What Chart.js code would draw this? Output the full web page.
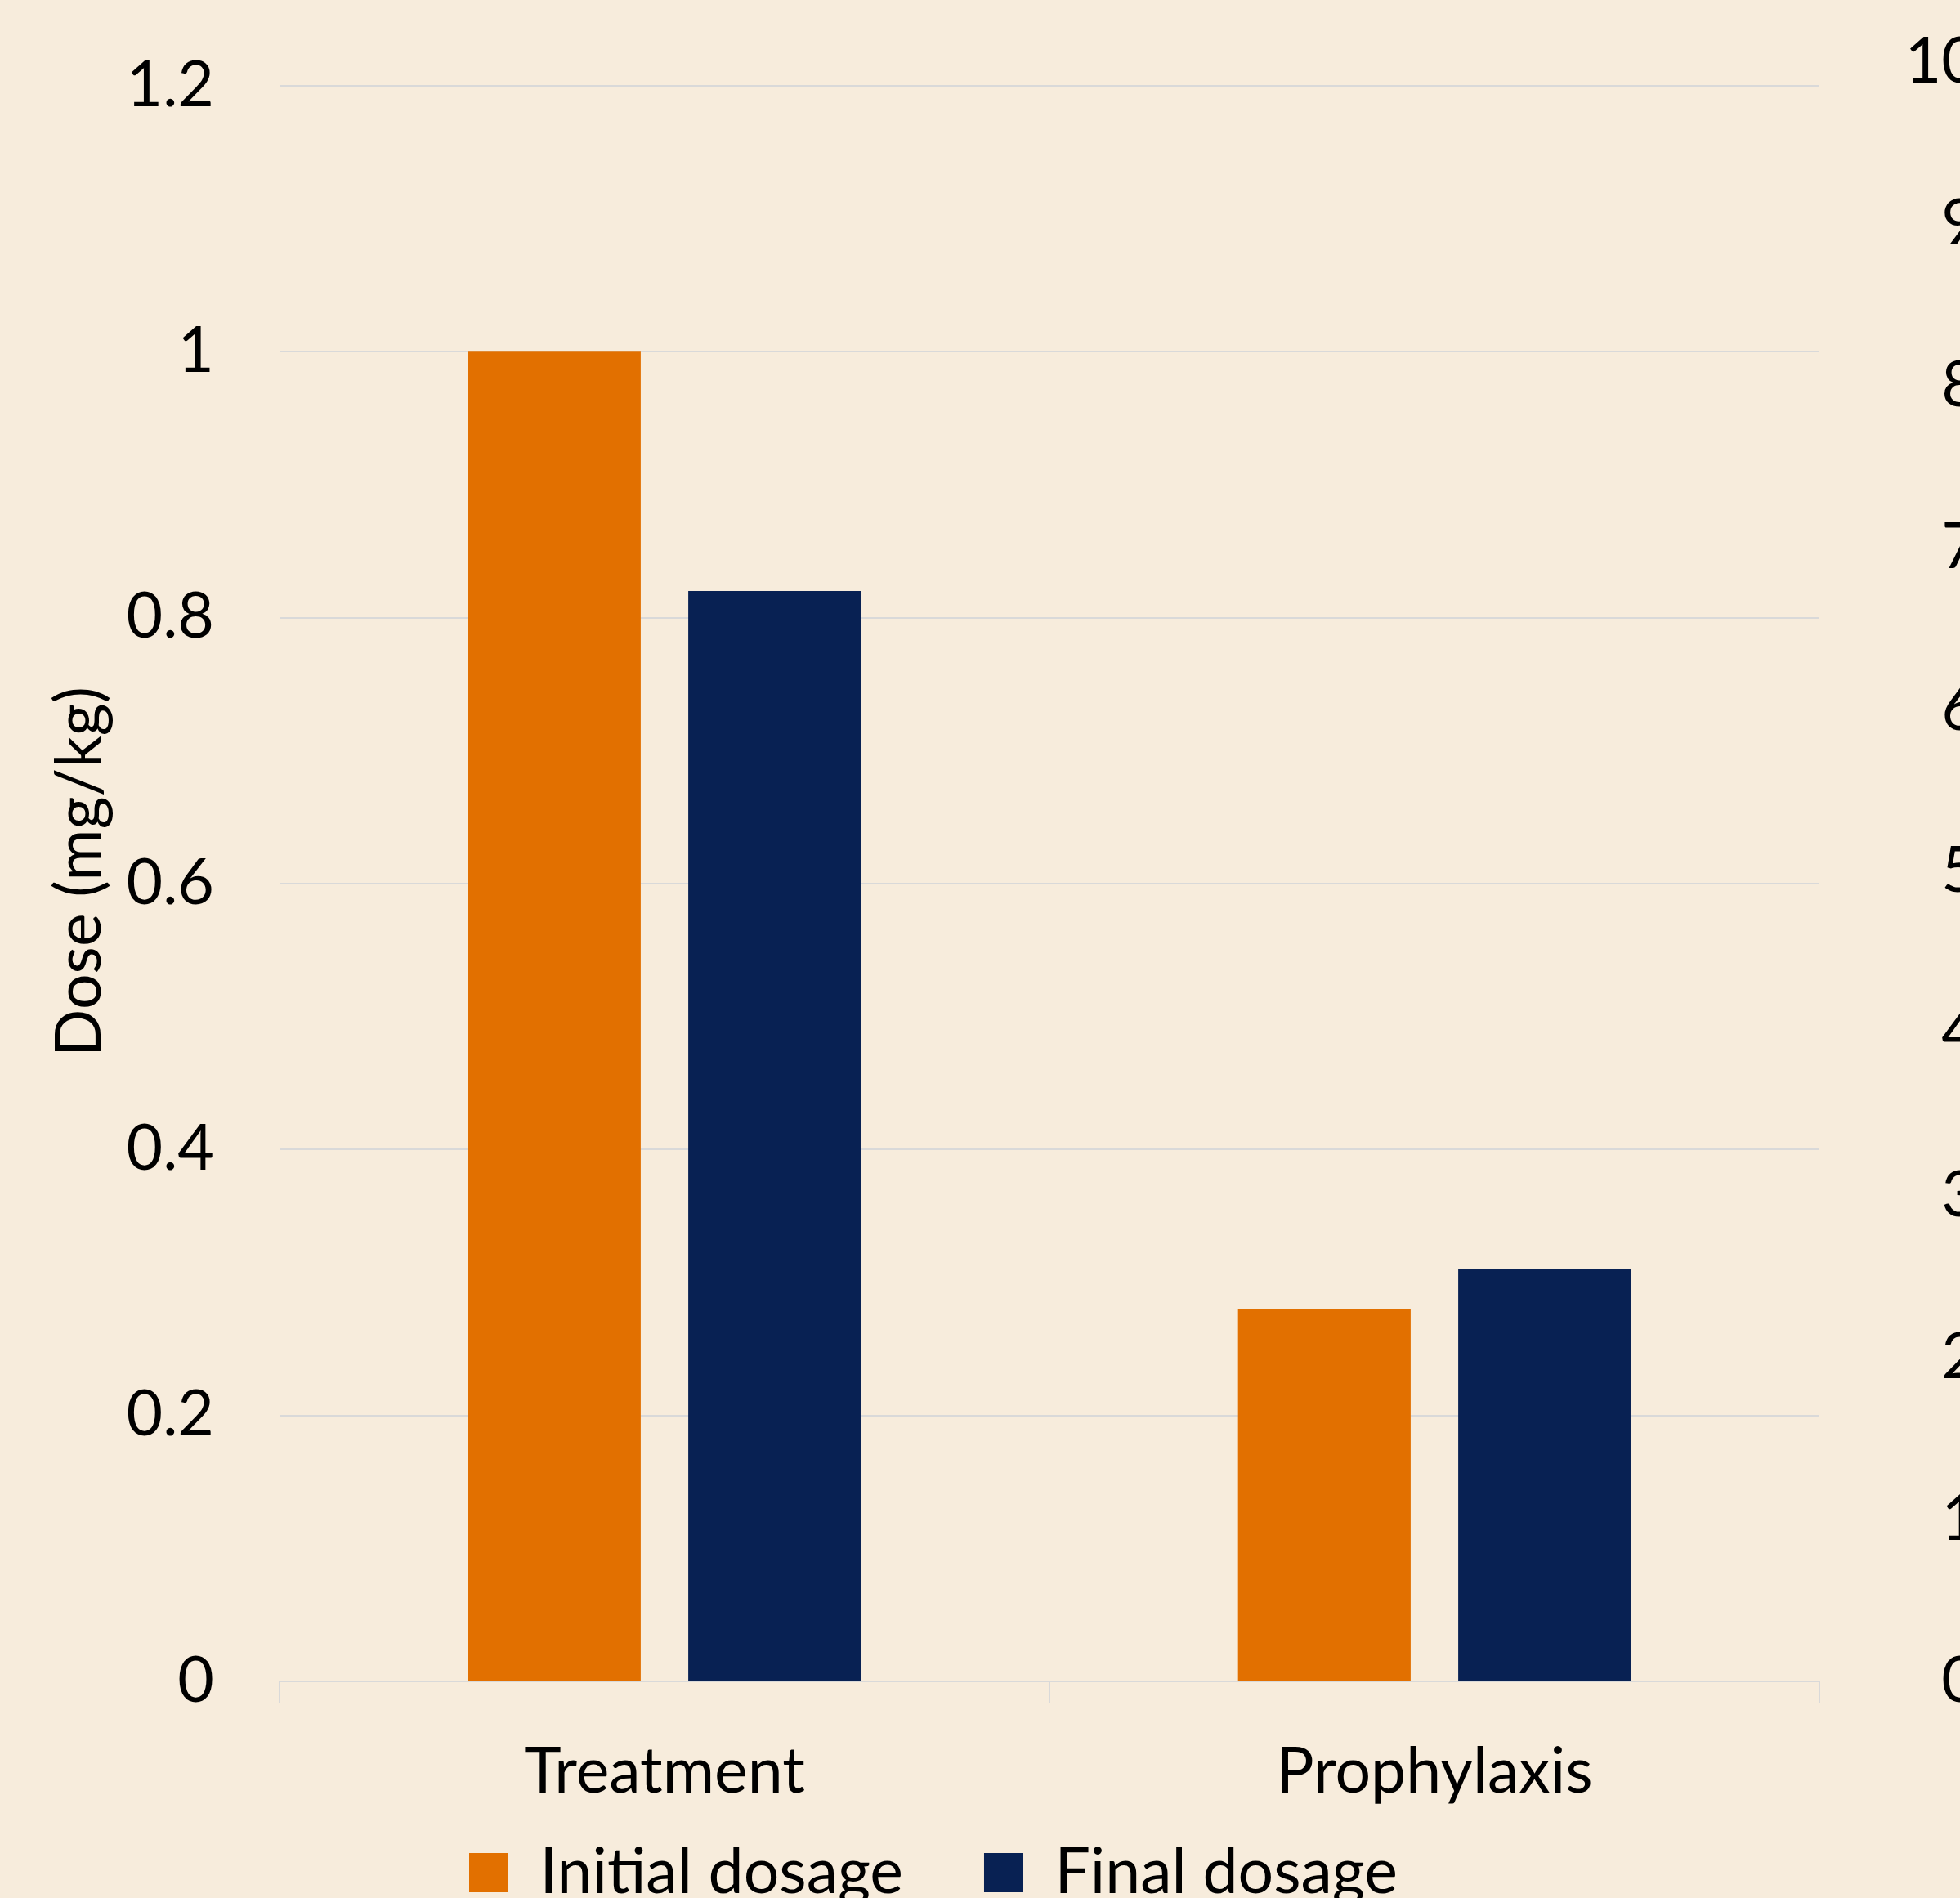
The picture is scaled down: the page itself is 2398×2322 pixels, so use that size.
<!DOCTYPE html>
<html>
<head>
<meta charset="utf-8">
<title>Dose chart</title>
<script src="https://cdn.jsdelivr.net/npm/chart.js@4.4.1/dist/chart.umd.min.js"></script>
<style>
  html, body { margin: 0; padding: 0; background: #f7ecdc; overflow: hidden; }
  #chart-wrap { width: 2420px; height: 2393px; }
</style>
</head>
<body>
<div id="chart-wrap"><canvas id="dose-chart"></canvas></div>
<script>
'use strict';

// DATA
let categories = ['Treatment', 'Prophylaxis'];
let seriesNames = ['Initial dosage', 'Final dosage'];
let initialDosage = [1.0, 0.28];
let finalDosage = [0.82, 0.31];
let doseTicks = [0, 0.2, 0.4, 0.6, 0.8, 1, 1.2];
let rightTicks = [0, 1, 2, 3, 4, 5, 6, 7, 8, 9, 10];

// STYLE
let orange = '#e27000';
let navy = '#082153';
let gridColor = '#d9d9d9';
let textFont = { family: 'Lato, "Open Sans", sans-serif', size: 77 };
let legendPad = 99;

// CANVAS
let ctx = document.getElementById('dose-chart');

// helper: keep only the listed tick values
function useTicks(list) {
  return function (axis) {
    axis.ticks = list.map(v => ({ value: v }));
  };
}

// move the legend so it sits where the original one does
let legendShift = {
  id: 'legendShift',
  afterLayout(chart) {
    let lg = chart.legend;
    let w = lg.right - lg.left;
    lg.left = chart.chartArea.left + 232 - legendPad;
    lg.right = lg.left + w;

    let targetMid = chart.chartArea.bottom + 234;
    let curMid = lg.top + legendPad + textFont.size / 2;
    let dy = targetMid - curMid;
    lg.top += dy;
    lg.bottom += dy;
  }
};

let chartObj = {
  type: 'bar',
  data: {
    labels: categories,
    datasets: [{
      label: seriesNames[0],
      data: initialDosage,
      backgroundColor: orange,
      yAxisID: 'y',
      categoryPercentage: 0.572,
      barPercentage: 0.784
    },
    {
      label: seriesNames[1],
      data: finalDosage,
      backgroundColor: navy,
      yAxisID: 'y',
      categoryPercentage: 0.572,
      barPercentage: 0.784
    }]
  },
  options: {
    responsive: true,
    maintainAspectRatio: false,
    animation: false,
    devicePixelRatio: 1,
    layout: { padding: { top: 76, left: 0, right: 0, bottom: 0 } },
    plugins: {
      legend: {
        position: 'bottom',
        align: 'start',
        labels: {
          boxWidth: 48,
          boxHeight: 48,
          padding: legendPad,
          color: '#000',
          font: textFont
        }
      },
      tooltip: { enabled: false }
    },
    scales: {
      x: {
        offset: true,
        grid: {
          offset: true,
          drawOnChartArea: false,
          drawTicks: true,
          tickLength: 26,
          color: gridColor,
          lineWidth: 2
        },
        border: { color: gridColor, width: 2 },
        ticks: { color: '#000', font: textFont, padding: 39 },
        afterFit(scale) { scale.height = 150; }
      },
      y: {
        position: 'left',
        min: 0,
        max: 1.2178,
        afterBuildTicks: useTicks(doseTicks),
        grid: {
          color: gridColor,
          lineWidth: 2,
          drawTicks: true,
          tickLength: 78,
          tickColor: 'transparent'
        },
        border: { display: false },
        ticks: {
          color: '#000',
          font: textFont,
          padding: 2,
          callback: v => String(v)
        },
        title: {
          display: true,
          text: 'Dose (mg/kg)',
          color: '#000',
          font: textFont,
          padding: { top: 52, bottom: 0 }
        },
        afterFit(scale) { scale.width = 342; }
      },
      y2: {
        position: 'right',
        min: 0,
        max: 10,
        afterBuildTicks: useTicks(rightTicks),
        grid: { display: false, drawTicks: false },
        border: { display: false },
        ticks: {
          color: '#000',
          font: textFont,
          padding: 0,
          crossAlign: 'far',
          callback: v => String(v)
        },
        afterFit(scale) { scale.width = 194; }
      }
    }
  },
  plugins: [legendShift]
};

new Chart(ctx, chartObj);
</script>
</body>
</html>
